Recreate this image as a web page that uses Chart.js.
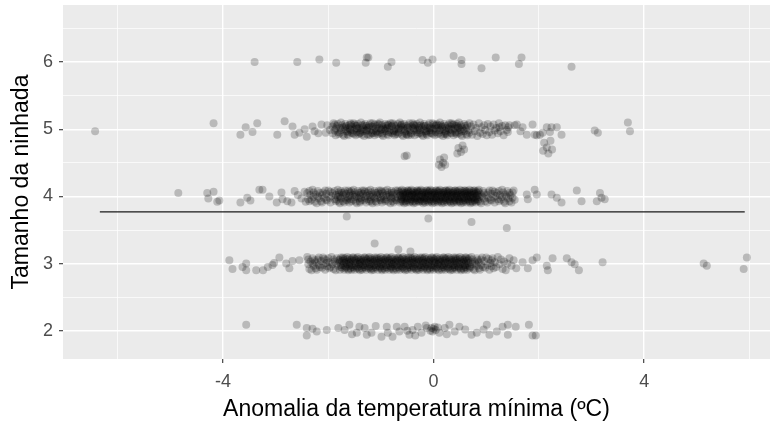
<!DOCTYPE html>
<html lang="pt">
<head>
  <meta charset="UTF-8">
  <title>Tamanho da ninhada</title>
  <script src="https://cdn.jsdelivr.net/npm/chart.js@4"></script>
  <style>
    body { margin: 0; background: #fff; }
    #wrap { width: 770px; height: 430px; position: relative; }
  </style>
</head>
<body>
  <div id="wrap"><canvas id="grafico"></canvas></div>

  <script>
    // anomalia (x) e tamanho da ninhada com jitter (y)
    const linha6 = [
      [-3.40,6.00],[-2.59,6.00],[-2.17,6.04],[-1.85,5.99],[-1.27,6.07],[-1.24,6.07],[-1.29,5.99],[-0.87,5.93],[-0.80,6.00],[-0.21,6.03],
      [-0.11,5.99],[-0.02,6.04],[0.38,6.09],[0.53,6.03],[0.53,5.97],[0.91,5.91],[1.18,6.07],[1.67,6.07],[1.62,5.97],[2.62,5.93]
    ]

    const linha5 = [
      [-6.43,4.97],[-4.18,5.09],[-3.67,4.92],[-3.57,5.03],[-3.44,4.96],[-3.35,5.09],[-2.97,4.92],[-2.83,5.12],[-2.68,5.04],[-2.64,4.92],
      [-2.55,4.95],[-2.45,5.00],[-2.41,4.89],[-2.30,5.04],[-2.26,4.97],[-2.19,4.94],[-2.13,5.07],[-2.05,4.95],[-2.02,5.06],[-1.97,4.99],
      [-1.92,5.04],[-1.92,4.94],[-1.90,5.09],[-1.88,4.98],[-1.88,5.07],[-1.86,4.91],[-1.86,5.01],[-1.84,5.05],[-1.82,4.96],[-1.82,5.08],[-1.80,4.93],[-1.78,5.02],[-1.78,4.95],[-1.76,5.10],[-1.76,4.99],[-1.74,5.06],
      [-1.72,4.92],[-1.72,5.03],[-1.70,4.90],[-1.68,5.00],[-1.68,5.08],[-1.66,4.97],[-1.66,5.05],[-1.64,4.93],[-1.62,5.02],[-1.62,4.91],[-1.60,5.06],[-1.58,4.98],[-1.58,5.09],[-1.56,4.95],[-1.56,5.04],[-1.54,4.94],
      [-1.52,5.09],[-1.52,4.98],[-1.50,5.07],[-1.48,4.91],[-1.48,5.01],[-1.46,5.05],[-1.46,4.96],[-1.44,5.08],[-1.42,4.93],[-1.42,5.02],[-1.40,4.95],[-1.38,5.10],[-1.38,4.99],[-1.36,5.06],[-1.36,4.92],[-1.34,5.03],
      [-1.32,4.90],[-1.32,5.00],[-1.30,5.08],[-1.28,4.97],[-1.28,5.05],[-1.26,4.93],[-1.26,5.02],[-1.24,4.91],[-1.22,5.06],[-1.22,4.98],[-1.20,5.09],[-1.18,4.95],[-1.18,5.04],[-1.16,4.94],[-1.16,5.09],[-1.14,4.98],
      [-1.12,5.07],[-1.12,4.91],[-1.10,5.01],[-1.08,5.05],[-1.08,4.96],[-1.06,5.08],[-1.06,4.93],[-1.04,5.02],[-1.02,4.95],[-1.02,5.10],[-1.00,4.99],[-0.98,5.06],[-0.98,4.92],[-0.96,5.03],[-0.96,4.90],[-0.94,5.00],
      [-0.92,5.08],[-0.92,4.97],[-0.90,5.05],[-0.88,4.93],[-0.88,5.02],[-0.86,4.91],[-0.86,5.06],[-0.84,4.98],[-0.82,5.09],[-0.82,4.95],[-0.80,5.04],[-0.78,4.94],[-0.78,5.09],[-0.76,4.98],[-0.76,5.07],[-0.74,4.91],
      [-0.72,5.01],[-0.72,5.05],[-0.70,4.96],[-0.68,5.08],[-0.68,4.93],[-0.66,5.02],[-0.66,4.95],[-0.64,5.10],[-0.62,4.99],[-0.62,5.06],[-0.60,4.92],[-0.58,5.03],[-0.58,4.90],[-0.56,5.00],[-0.56,5.08],[-0.54,4.97],
      [-0.52,5.05],[-0.52,4.93],[-0.50,5.02],[-0.48,4.91],[-0.48,5.06],[-0.46,4.98],[-0.46,5.09],[-0.44,4.95],[-0.42,5.04],[-0.42,4.94],[-0.40,5.09],[-0.38,4.98],[-0.38,5.07],[-0.36,4.91],[-0.36,5.01],[-0.34,5.05],
      [-0.32,4.96],[-0.32,5.08],[-0.30,4.93],[-0.28,5.02],[-0.28,4.95],[-0.26,5.10],[-0.26,4.99],[-0.24,5.06],[-0.22,4.92],[-0.22,5.03],[-0.20,4.90],[-0.18,5.00],[-0.18,5.08],[-0.16,4.97],[-0.16,5.05],[-0.14,4.93],
      [-0.12,5.02],[-0.12,4.91],[-0.10,5.06],[-0.08,4.98],[-0.08,5.09],[-0.06,4.95],[-0.06,5.04],[-0.04,4.94],[-0.02,5.09],[-0.02,4.98],[0.00,5.07],[0.02,4.91],[0.02,5.01],[0.04,5.05],[0.04,4.96],[0.06,5.08],
      [0.08,4.93],[0.08,5.02],[0.10,4.95],[0.12,5.10],[0.12,4.99],[0.14,5.06],[0.14,4.92],[0.16,5.03],[0.18,4.90],[0.18,5.00],[0.20,5.08],[0.22,4.97],[0.22,5.05],[0.24,4.93],[0.24,5.02],[0.26,4.91],
      [0.28,5.06],[0.28,4.98],[0.30,5.09],[0.32,4.95],[0.32,5.04],[0.34,4.94],[0.34,5.09],[0.36,4.98],[0.38,5.07],[0.38,4.91],[0.40,5.01],[0.42,5.05],[0.42,4.96],[0.44,5.08],[0.44,4.93],[0.46,5.02],
      [0.48,4.95],[0.48,5.10],[0.50,4.99],[0.52,5.06],[0.52,4.92],[0.54,5.03],[0.54,4.90],[0.56,5.00],[0.58,5.08],[0.58,4.97],[0.60,5.05],[0.62,4.93],[0.62,5.02],[0.64,4.91],[0.64,5.06],[0.66,4.98],
      [0.68,5.09],[0.68,4.95],
      [-1.69,5.03],[-1.63,4.96],[-1.57,5.07],[-1.51,4.93],[-1.45,5.01],[-1.39,4.95],[-1.33,5.06],[-1.27,4.99],[-1.21,4.92],[-1.15,5.04],
      [-1.09,4.97],[-1.03,5.07],[-0.97,4.94],[-0.91,5.01],[-0.85,4.96],[-0.79,5.05],[-0.73,4.93],[-0.67,5.00],[-0.61,5.07],[-0.55,4.95],
      [-0.49,5.03],[-0.43,4.92],[-0.37,5.06],[-0.31,4.99],[-0.25,4.94],[-0.19,5.05],[-0.13,4.97],[-0.07,5.02],[-0.01,4.93],[0.05,5.06],
      [0.11,4.98],[0.17,5.04],[0.23,4.95],[0.29,5.01],[0.35,5.07],[0.41,4.94],[0.47,5.03],[0.53,4.97],[-1.59,5.00],[-1.47,5.05],
      [-1.35,4.97],[-1.23,5.03],[-1.11,4.94],[-0.99,5.00],[-0.87,5.07],[-0.75,4.97],[-0.63,5.04],[-0.51,4.92],[-0.39,5.02],[-0.27,5.05],
      [-0.15,4.95],[-0.03,5.01],[0.09,5.06],[0.21,4.93],[0.33,5.00],[0.45,5.05],
      [0.71,5.04],[0.73,4.92],[0.76,5.07],[0.78,4.97],[0.81,5.02],[0.83,4.90],[0.86,5.09],[0.88,4.95],[0.91,5.03],[0.93,4.93],
      [0.96,5.06],[0.98,4.99],[1.01,4.91],[1.03,5.08],[1.06,4.96],[1.08,5.04],[1.11,4.92],[1.14,5.07],[1.16,4.98],[1.19,5.02],
      [1.22,4.94],[1.24,5.09],[1.27,4.97],[1.30,5.05],[1.33,4.91],[1.36,5.06],[1.39,4.99],[1.42,5.03],
      [1.25,5.03],[1.41,4.96],[1.44,5.06],[1.54,5.06],[1.58,5.07],[1.65,4.97],[1.69,5.03],[1.77,4.92],[1.88,5.07],[1.92,4.92],
      [1.96,4.91],[2.02,4.92],[2.07,4.95],[2.15,5.03],[2.21,4.96],[2.24,5.03],[2.34,5.03],[2.43,4.92],[3.06,4.98],[3.12,4.95],
      [3.69,5.10],[3.73,4.97]
    ]

    const intermedios = [
      [-0.55,4.60],[-0.51,4.61],
      [0.12,4.55],[0.18,4.50],[0.15,4.44],[0.22,4.47],[0.20,4.58],[0.10,4.47],
      [0.47,4.72],[0.55,4.76],[0.52,4.66],[0.58,4.70],[0.45,4.64],
      [2.10,4.80],[2.22,4.83],[2.15,4.73],[2.25,4.70],[2.08,4.68],[2.18,4.64]
    ]

    const linha4 = [
      [-4.85,4.05],[-4.30,4.05],[-4.18,4.07],[-4.28,3.97],[-4.11,3.92],[-4.07,3.94],[-3.67,3.91],[-3.54,3.98],[-3.48,3.94],[-3.31,4.10],
      [-3.25,4.10],[-3.12,4.00],[-2.98,3.91],[-2.89,4.06],[-2.87,3.96],[-2.78,3.93],[-2.70,3.91],[-2.64,4.08],[-2.58,4.02],[-2.51,3.97],
      [-2.45,4.07],[-2.43,3.92],
      [-2.40,4.05],[-2.38,3.96],[-2.36,4.08],[-2.36,3.93],[-2.34,4.02],[-2.32,3.95],[-2.30,4.10],[-2.28,3.99],[-2.28,4.06],[-2.26,3.92],
      [-2.24,4.03],[-2.22,3.90],[-2.20,4.00],[-2.20,4.08],[-2.18,3.97],[-2.16,4.05],[-2.14,3.93],[-2.12,4.02],[-2.12,3.91],[-2.10,4.06],
      [-2.08,3.98],[-2.06,4.09],[-2.04,3.95],[-2.04,4.04],[-2.02,3.94],[-2.00,4.09],[-1.98,3.98],[-1.96,4.07],[-1.96,3.91],[-1.94,4.01],[-1.92,4.05],
      [-1.88,3.96],[-1.88,4.08],[-1.86,3.93],[-1.86,4.02],[-1.84,3.95],[-1.82,4.10],[-1.82,3.99],[-1.80,4.06],[-1.80,3.92],[-1.80,4.03],
      [-1.78,3.90],[-1.78,4.00],[-1.76,4.08],[-1.76,3.97],[-1.74,4.05],[-1.72,3.93],[-1.72,4.02],[-1.70,3.91],[-1.70,4.06],
      [-1.68,3.98],[-1.68,4.09],[-1.66,3.95],[-1.66,4.04],[-1.64,3.94],[-1.62,4.09],[-1.62,3.98],[-1.60,4.07],[-1.60,3.91],[-1.60,4.01],
      [-1.58,4.05],[-1.58,3.96],[-1.56,4.08],[-1.56,3.93],[-1.54,4.02],[-1.52,3.95],[-1.52,4.10],[-1.50,3.99],[-1.50,4.06],
      [-1.48,3.92],[-1.48,4.03],[-1.46,3.90],[-1.46,4.00],[-1.44,4.08],[-1.42,3.97],[-1.42,4.05],[-1.40,3.93],[-1.40,4.02],[-1.40,3.91],
      [-1.38,4.06],[-1.38,3.98],[-1.36,4.09],[-1.36,3.95],[-1.34,4.04],[-1.32,3.94],[-1.32,4.09],[-1.30,3.98],[-1.30,4.07],
      [-1.28,3.91],[-1.28,4.01],[-1.26,4.05],[-1.26,3.96],[-1.24,4.08],[-1.22,3.93],[-1.22,4.02],[-1.20,3.95],[-1.20,4.10],[-1.20,3.99],
      [-1.18,4.06],[-1.18,3.92],[-1.16,4.03],[-1.16,3.90],[-1.14,4.00],[-1.12,4.08],[-1.12,3.97],[-1.10,4.05],[-1.10,3.93],
      [-1.08,4.02],[-1.08,3.91],[-1.06,4.06],[-1.06,3.98],[-1.04,4.09],[-1.02,3.95],[-1.02,4.04],[-1.00,3.94],[-1.00,4.09],[-1.00,3.98],
      [-0.98,4.07],[-0.98,3.91],[-0.96,4.01],[-0.96,4.05],[-0.94,3.96],[-0.92,4.08],[-0.92,3.93],[-0.90,4.02],[-0.90,3.95],
      [-0.88,4.10],[-0.88,3.99],[-0.86,4.06],[-0.86,3.92],[-0.84,4.03],[-0.82,3.90],[-0.82,4.00],[-0.80,4.08],[-0.80,3.97],[-0.80,4.05],
      [-0.78,3.93],[-0.78,4.02],[-0.76,3.91],[-0.76,4.06],[-0.74,3.98],[-0.72,4.09],[-0.72,3.95],[-0.70,4.04],[-0.70,3.94],[-0.68,4.09],[-0.68,3.98],[-0.66,4.07],
      [-0.64,3.91],[-0.64,4.01],[-0.64,4.05],[-0.62,3.96],[-0.62,4.08],[-0.62,3.93],[-0.62,4.02],[-0.60,3.95],[-0.60,4.10],[-0.60,3.99],
      [-0.58,4.06],[-0.58,3.92],[-0.58,4.03],[-0.56,3.90],[-0.56,4.00],[-0.56,4.08],[-0.56,3.97],[-0.54,4.05],[-0.54,3.93],[-0.54,4.02],
      [-0.52,3.91],[-0.52,4.06],[-0.52,3.98],[-0.50,4.09],[-0.50,3.95],[-0.50,4.04],[-0.50,3.94],[-0.48,4.09],[-0.48,3.98],[-0.48,4.07],
      [-0.46,3.91],[-0.46,4.01],[-0.46,4.05],
      [-0.44,3.96],[-0.44,4.08],[-0.44,3.93],[-0.42,4.02],[-0.42,3.95],[-0.42,4.10],[-0.42,3.99],[-0.40,4.06],[-0.40,3.92],[-0.40,4.03],
      [-0.38,3.90],[-0.38,4.00],[-0.38,4.08],[-0.36,3.97],[-0.36,4.05],[-0.36,3.93],[-0.36,4.02],[-0.34,3.91],[-0.34,4.06],[-0.34,3.98],
      [-0.32,4.09],[-0.32,3.95],[-0.32,4.04],[-0.30,3.94],[-0.30,4.09],[-0.30,3.98],[-0.30,4.07],[-0.28,3.92],[-0.28,4.00],[-0.28,4.06],
      [-0.26,3.96],[-0.26,4.08],[-0.26,3.93],
      [-0.24,4.02],[-0.24,3.95],[-0.24,4.10],[-0.22,3.99],[-0.22,4.06],[-0.22,3.92],[-0.22,4.03],[-0.20,3.90],[-0.20,4.00],[-0.20,4.08],
      [-0.18,3.97],[-0.18,4.05],[-0.18,3.93],[-0.16,4.02],[-0.16,3.91],[-0.16,4.06],[-0.16,3.98],[-0.14,4.09],[-0.14,3.95],[-0.14,4.04],
      [-0.12,3.94],[-0.12,4.09],[-0.12,3.98],[-0.10,4.07],[-0.10,3.91],[-0.10,4.01],[-0.10,4.05],[-0.08,3.96],[-0.08,4.08],[-0.08,3.93],
      [-0.06,4.02],[-0.06,3.95],[-0.06,4.10],
      [-0.04,3.99],[-0.04,4.06],[-0.04,3.92],[-0.02,4.03],[-0.02,3.90],[-0.02,4.00],[-0.02,4.08],[0.00,3.97],[0.00,4.05],[0.00,3.93],
      [0.02,4.02],[0.02,3.91],[0.02,4.06],[0.04,3.98],[0.04,4.09],[0.04,3.95],[0.04,4.04],[0.06,3.94],[0.06,4.09],[0.06,3.98],
      [0.08,4.07],[0.08,3.91],[0.08,4.01],[0.10,4.05],[0.10,3.96],[0.10,4.08],[0.10,3.93],[0.12,4.02],[0.12,3.95],[0.12,4.10],
      [0.14,3.99],[0.14,4.06],[0.14,3.92],
      [0.16,4.03],[0.16,3.90],[0.16,4.00],[0.18,4.08],[0.18,3.97],[0.18,4.05],[0.18,3.93],[0.20,4.02],[0.20,3.91],[0.20,4.06],
      [0.22,3.98],[0.22,4.09],[0.22,3.95],[0.24,4.04],[0.24,3.94],[0.24,4.09],[0.24,3.98],[0.26,4.07],[0.26,3.91],[0.26,4.01],
      [0.28,4.05],[0.28,3.96],[0.28,4.08],[0.30,3.93],[0.30,4.02],[0.30,3.95],[0.30,4.10],[0.32,3.99],[0.32,4.06],[0.32,3.92],
      [0.34,4.03],[0.34,3.90],[0.34,4.00],
      [0.36,4.08],[0.36,3.97],[0.36,4.05],[0.38,3.93],[0.38,4.02],[0.38,3.91],[0.38,4.06],[0.40,3.98],[0.40,4.09],[0.40,3.95],
      [0.42,4.04],[0.42,3.94],[0.42,4.09],[0.44,3.98],[0.44,4.07],[0.44,3.91],[0.44,4.01],[0.46,4.05],[0.46,3.96],[0.46,4.08],
      [0.48,3.93],[0.48,4.02],[0.48,3.95],[0.50,4.10],[0.50,3.99],[0.50,4.06],[0.50,3.92],[0.52,4.03],[0.52,3.90],[0.52,4.00],
      [0.54,4.08],[0.54,3.97],[0.54,4.05],
      [0.56,3.93],[0.56,4.02],[0.56,3.91],[0.58,4.06],[0.58,3.98],[0.58,4.09],[0.58,3.95],[0.60,4.04],[0.60,3.94],[0.60,4.09],
      [0.62,3.98],[0.62,4.07],[0.62,3.91],[0.64,4.01],[0.64,4.05],[0.64,3.96],[0.64,4.08],[0.66,3.93],[0.66,4.02],[0.66,3.95],
      [0.68,4.10],[0.68,3.99],[0.68,4.06],[0.70,3.92],[0.70,4.03],[0.70,3.90],[0.70,4.00],[0.72,4.08],[0.72,3.97],[0.72,4.05],
      [0.74,3.93],[0.74,4.02],[0.74,3.91],
      [0.76,4.06],[0.76,3.98],[0.76,4.09],[0.78,3.95],[0.78,4.04],[0.78,3.94],[0.78,4.09],[0.80,3.98],[0.80,4.07],[0.80,3.91],
      [0.82,4.01],[0.82,4.05],[0.82,3.96],[0.84,4.08],[0.84,3.93],[0.84,4.02],[0.84,3.95],[0.86,4.10],[0.86,3.99],[0.86,4.06],
      [0.88,3.92],[0.90,4.03],[0.90,3.90],[0.92,4.00],[0.94,4.08],[0.96,3.97],[0.96,4.05],[0.98,3.93],[1.00,4.02],[1.02,3.91],
      [1.04,4.06],[1.04,3.98],[1.06,4.09],[1.08,3.95],[1.10,4.04],[1.10,3.94],[1.12,4.09],[1.14,3.98],[1.16,4.07],[1.16,3.91],
      [1.18,4.01],[1.20,4.05],[1.22,3.96],[1.24,4.08],[1.24,3.93],[1.26,4.02],[1.28,3.95],[1.30,4.10],[1.30,3.99],[1.32,4.06],
      [1.34,3.92],[1.36,4.03],[1.36,3.90],[1.38,4.00],[1.40,4.08],[1.42,3.97],[1.44,4.05],[1.44,3.93],[1.46,4.02],[1.48,3.91],
      [1.50,4.06],[1.50,3.98],[1.52,4.09],[1.54,3.95],
      [1.77,4.03],[1.79,3.96],[1.92,4.10],[1.96,4.03],[2.24,4.03],[2.34,3.98],[2.43,3.91],[2.72,4.09],[2.81,3.93],[3.10,3.93],
      [3.16,4.05],[3.19,3.98],[3.25,3.96],
      [-1.65,3.70],[-0.10,3.67],[0.72,3.62],[1.39,3.53]
    ]

    const linha3 = [
      [-3.88,3.05],[-3.82,2.92],[-3.63,2.95],[-3.56,3.00],[-3.56,2.90],[-3.37,2.90],[-3.24,2.90],[-3.15,2.95],[-3.06,2.98],[-3.03,3.01],
      [-2.93,3.09],[-2.80,3.00],[-2.74,2.93],[-2.68,3.04],[-2.55,3.05],
      [-1.12,3.30],[-0.67,3.21],[-0.44,3.18],
      [-2.40,3.10],[-2.38,2.99],[-2.38,3.06],[-2.36,2.92],[-2.34,3.03],[-2.32,2.90],[-2.30,3.00],[-2.30,3.08],[-2.28,2.97],[-2.26,3.05],
      [-2.24,2.93],[-2.24,3.02],[-2.22,2.91],[-2.20,3.06],[-2.18,2.98],[-2.18,3.09],[-2.16,2.95],[-2.14,3.04],[-2.12,2.94],[-2.10,3.09],
      [-2.10,2.98],[-2.08,3.07],[-2.06,2.91],[-2.04,3.01],[-2.04,3.05],[-2.02,2.96],[-2.00,3.08],[-1.98,2.93],[-1.98,3.02],[-1.96,2.95],
      [-1.94,3.10],[-1.92,2.99],[-1.90,3.06],[-1.90,2.92],[-1.88,3.03],[-1.86,2.90],[-1.84,3.00],[-1.84,3.08],[-1.82,2.97],[-1.80,3.05],
      [-1.78,3.02],[-1.78,2.91],[-1.78,3.06],[-1.76,2.98],[-1.76,3.09],[-1.76,2.95],[-1.74,3.04],[-1.74,2.94],[-1.72,3.09],[-1.72,2.98],[-1.72,3.07],
      [-1.70,2.91],[-1.70,3.01],[-1.70,3.05],[-1.68,2.96],[-1.68,3.08],[-1.68,2.93],[-1.66,3.02],[-1.66,2.95],[-1.64,3.10],[-1.64,2.99],[-1.64,3.06],
      [-1.62,2.92],[-1.62,3.03],[-1.62,2.90],[-1.60,3.00],[-1.60,3.08],[-1.60,2.97],
      [-1.58,3.05],[-1.58,2.93],[-1.58,3.02],[-1.56,2.91],[-1.56,3.06],[-1.56,2.98],[-1.54,3.09],[-1.54,2.95],[-1.52,3.04],[-1.52,2.94],[-1.52,3.09],
      [-1.50,2.98],[-1.50,3.07],[-1.50,2.91],[-1.48,3.01],[-1.48,3.05],[-1.48,2.96],[-1.46,3.08],[-1.46,2.93],[-1.44,3.02],[-1.44,2.95],[-1.44,3.10],
      [-1.42,2.99],[-1.42,3.06],[-1.42,2.92],[-1.40,3.03],[-1.40,2.90],[-1.40,3.00],
      [-1.38,3.08],[-1.38,2.97],[-1.38,3.05],[-1.36,2.93],[-1.36,3.02],[-1.36,2.91],[-1.34,3.06],[-1.34,2.98],[-1.32,3.09],[-1.32,2.95],[-1.32,3.04],
      [-1.30,2.94],[-1.30,3.09],[-1.30,2.98],[-1.28,3.07],[-1.28,2.91],[-1.28,3.01],[-1.26,3.05],[-1.26,2.96],[-1.24,3.08],[-1.24,2.93],[-1.24,3.02],
      [-1.22,2.95],[-1.22,3.10],[-1.22,2.99],[-1.20,3.06],[-1.20,2.92],[-1.20,3.03],
      [-1.18,2.90],[-1.18,3.00],[-1.18,3.08],[-1.16,2.97],[-1.16,3.05],[-1.16,2.93],[-1.14,3.02],[-1.14,2.91],[-1.12,3.06],[-1.12,2.98],[-1.12,3.09],
      [-1.10,2.95],[-1.10,3.04],[-1.10,2.94],[-1.08,3.09],[-1.08,2.98],[-1.08,3.07],[-1.06,2.91],[-1.06,3.01],[-1.04,3.05],[-1.04,2.96],[-1.04,3.08],
      [-1.02,2.93],[-1.02,3.02],[-1.02,2.95],[-1.00,3.10],[-1.00,2.99],[-1.00,3.06],
      [-0.98,2.92],[-0.98,3.03],[-0.98,2.90],[-0.96,3.00],[-0.96,3.08],[-0.96,2.97],[-0.94,3.05],[-0.94,2.93],[-0.92,3.02],[-0.92,2.91],[-0.92,3.06],
      [-0.90,2.98],[-0.90,3.09],[-0.90,2.95],[-0.88,3.04],[-0.88,2.94],[-0.88,3.09],[-0.86,2.98],[-0.86,3.07],[-0.84,2.91],[-0.84,3.01],[-0.84,3.05],
      [-0.82,2.96],[-0.82,3.08],[-0.82,2.93],[-0.80,3.02],[-0.80,2.95],[-0.80,3.10],
      [-0.78,2.99],[-0.78,3.06],[-0.78,2.92],[-0.76,3.03],[-0.76,2.90],[-0.76,3.00],[-0.74,3.08],[-0.74,2.97],[-0.72,3.05],[-0.72,2.93],[-0.72,3.02],
      [-0.70,2.91],[-0.70,3.06],[-0.70,2.98],[-0.68,3.09],[-0.68,2.95],[-0.68,3.04],[-0.66,2.94],[-0.66,3.09],[-0.64,2.98],[-0.64,3.07],[-0.64,2.91],
      [-0.62,3.01],[-0.62,3.05],[-0.62,2.96],[-0.60,3.08],[-0.60,2.93],[-0.60,3.02],
      [-0.58,2.95],[-0.58,3.10],[-0.58,2.99],[-0.56,3.06],[-0.56,2.92],[-0.56,3.03],[-0.54,2.90],[-0.54,3.00],[-0.52,3.08],[-0.52,2.97],[-0.52,3.05],
      [-0.50,2.93],[-0.50,3.02],[-0.50,2.91],[-0.48,3.06],[-0.48,2.98],[-0.48,3.09],[-0.46,2.95],[-0.46,3.04],[-0.44,2.94],[-0.44,3.09],[-0.44,2.98],
      [-0.42,3.07],[-0.42,2.91],[-0.42,3.01],[-0.40,3.05],[-0.40,2.96],[-0.40,3.08],
      [-0.38,2.93],[-0.38,3.02],[-0.38,2.95],[-0.36,3.10],[-0.36,2.99],[-0.36,3.06],[-0.34,2.92],[-0.34,3.03],[-0.32,2.90],[-0.32,3.00],[-0.32,3.08],
      [-0.30,2.97],[-0.30,3.05],[-0.30,2.93],[-0.28,3.02],[-0.28,2.91],[-0.28,3.06],[-0.26,2.98],[-0.26,3.09],[-0.24,2.95],[-0.24,3.04],[-0.24,2.94],
      [-0.22,3.09],[-0.22,2.98],[-0.22,3.07],[-0.20,2.91],[-0.20,3.01],[-0.20,3.05],
      [-0.18,2.96],[-0.18,3.08],[-0.18,2.93],[-0.16,3.02],[-0.16,2.95],[-0.16,3.10],[-0.14,2.99],[-0.14,3.06],[-0.12,2.92],[-0.12,3.03],[-0.12,2.90],
      [-0.10,3.00],[-0.10,3.08],[-0.10,2.97],[-0.08,3.05],[-0.08,2.93],[-0.08,3.02],[-0.06,2.91],[-0.06,3.06],[-0.04,2.98],[-0.04,3.09],[-0.04,2.95],
      [-0.02,3.04],[-0.02,2.94],[-0.02,3.09],[0.00,2.98],[0.00,3.07],[0.00,2.91],
      [0.02,3.01],[0.02,3.05],[0.02,2.96],[0.04,3.08],[0.04,2.93],[0.04,3.02],[0.06,2.95],[0.06,3.10],[0.08,2.99],[0.08,3.06],[0.08,2.92],
      [0.10,3.03],[0.10,2.90],[0.10,3.00],[0.12,3.08],[0.12,2.97],[0.12,3.05],[0.14,2.93],[0.14,3.02],[0.16,2.91],[0.16,3.06],[0.16,2.98],
      [0.18,3.09],[0.18,2.95],[0.18,3.04],[0.20,2.94],[0.20,3.09],[0.20,2.98],
      [0.22,3.07],[0.22,2.91],[0.22,3.01],[0.24,3.05],[0.24,2.96],[0.24,3.08],[0.26,2.93],[0.26,3.02],[0.28,2.95],[0.28,3.10],[0.28,2.99],
      [0.30,3.06],[0.30,2.92],[0.30,3.03],[0.32,2.90],[0.32,3.00],[0.32,3.08],[0.34,2.97],[0.34,3.05],[0.36,2.93],[0.36,3.02],[0.36,2.91],
      [0.38,3.06],[0.38,2.98],[0.38,3.09],[0.40,2.95],[0.40,3.04],[0.40,2.94],
      [0.42,3.09],[0.42,2.98],[0.42,3.07],[0.44,2.91],[0.44,3.01],[0.44,3.05],[0.46,2.96],[0.46,3.08],[0.48,2.93],[0.48,3.02],[0.48,2.95],
      [0.50,3.10],[0.50,2.99],[0.50,3.06],[0.52,2.92],[0.52,3.03],[0.52,2.90],[0.54,3.00],[0.54,3.08],[0.56,2.97],[0.56,3.05],[0.56,2.93],
      [0.58,3.02],[0.58,2.91],[0.58,3.06],[0.60,2.98],[0.60,3.09],[0.60,2.95],
      [0.62,3.04],[0.62,2.94],[0.62,3.09],[0.64,2.98],[0.64,3.07],[0.64,2.91],[0.66,3.01],[0.66,3.05],[0.68,2.96],[0.68,3.08],[0.68,2.93],
      [0.70,3.02],[0.70,2.95],[0.72,3.10],[0.74,2.99],[0.74,3.06],[0.76,2.92],[0.78,3.03],[0.78,2.90],[0.80,3.00],[0.82,3.08],
      [0.82,2.97],[0.84,3.05],[0.86,2.93],[0.86,3.02],[0.88,2.91],[0.90,3.06],[0.90,2.98],
      [0.92,3.09],[0.94,2.95],[0.96,3.04],[0.98,2.94],[1.00,3.09],[1.02,2.98],[1.04,3.07],[1.06,2.91],[1.08,3.01],[1.10,3.05],[1.10,2.96],
      [1.12,3.08],[1.14,2.93],[1.16,3.02],[1.19,2.95],[1.22,3.10],[1.25,2.99],[1.28,3.06],[1.31,2.92],[1.34,3.03],[1.37,2.90],
      [1.40,3.00],[1.44,3.08],[1.48,2.97],[1.52,3.05],[1.57,2.93],
      [1.69,3.02],[1.79,2.93],[1.88,3.05],[1.96,3.09],[2.15,2.97],[2.17,2.90],[2.26,3.08],[2.53,3.08],[2.62,3.02],[2.68,2.99],
      [2.76,2.90],[3.21,3.02],[5.13,3.00],[5.19,2.97],[5.89,2.92],[5.95,3.09]
    ]

    const linha2 = [
      [-3.56,2.09],[-2.60,2.09],[-2.41,2.04],[-2.41,1.93],[-2.30,2.03],[-2.22,1.99],[-2.03,2.01],[-1.81,2.04],[-1.69,2.01],[-1.60,2.09],
      [-1.55,1.95],[-1.46,1.97],[-1.41,2.06],[-1.31,2.04],[-1.27,1.94],[-1.18,1.97],[-1.10,2.07],[-0.99,1.91],[-0.89,2.06],[-0.87,1.97],
      [-0.78,1.91],[-0.70,2.06],[-0.65,1.99],[-0.55,2.06],[-0.50,2.00],[-0.46,1.94],[-0.40,2.01],[-0.35,1.93],[-0.30,2.06],[-0.23,1.97],
      [-0.15,2.08],[-0.13,2.04],[-0.06,2.00],[-0.04,2.04],[-0.02,1.99],[0.00,2.03],[0.02,2.06],[0.04,2.01],[0.08,2.05],[0.11,1.97],
      [0.21,2.04],[0.25,1.95],[0.30,2.09],[0.40,1.99],[0.49,2.06],[0.60,2.02],[0.72,1.94],[0.82,1.97],[0.95,2.02],[1.01,2.09],
      [1.06,1.94],[1.20,1.99],[1.31,2.06],[1.41,2.09],[1.41,1.94],[1.56,2.06],[1.81,2.09],[1.88,1.93],[1.94,1.93]
    ]

    // linha horizontal (média) e eixos
    const mediaNinhada = 3.77
    const extremosLinha = [-6.34, 5.91]
    const limitesX = [-7.04, 6.39]
    const limitesY = [1.58, 6.85]
    const rotulosX = [-4, 0, 4]
    const rotulosY = [2, 3, 4, 5, 6]

    const pontos = [...linha2, ...linha3, ...linha4, ...intermedios, ...linha5, ...linha6]
      .map(p => ({ x: p[0], y: p[1] }))

    const fonte = '"Liberation Sans", Arial, sans-serif'

    const fundoPainel = {
      id: 'fundoPainel',
      beforeDraw(chart) {
        const { ctx, chartArea: a } = chart
        ctx.save()
        ctx.fillStyle = '#EBEBEB'
        ctx.fillRect(a.left, a.top, a.right - a.left, a.bottom - a.top)
        ctx.restore()
      }
    }

    const ctx = document.getElementById('grafico').getContext('2d')
    new Chart(ctx, {
      type: 'scatter',
      data: {
        datasets: [
          {
            data: extremosLinha.map(x => ({ x: x, y: mediaNinhada })),
            showLine: true,
            borderColor: '#1a1a1a',
            borderWidth: 1.3,
            pointRadius: 0,
            order: 0
          },
          {
            data: pontos,
            backgroundColor: 'rgba(0, 0, 0, 0.21)',
            borderWidth: 0,
            pointRadius: 4,
            order: 1
          }
        ]
      },
      options: {
        responsive: true,
        maintainAspectRatio: false,
        animation: false,
        layout: { autoPadding: false, padding: { top: 5, right: 0, left: 0, bottom: 0 } },
        plugins: {
          legend: { display: false },
          tooltip: { enabled: false }
        },
        scales: {
          x: {
            type: 'linear',
            min: limitesX[0],
            max: limitesX[1],
            border: { display: false },
            grid: {
              color: '#ffffff',
              lineWidth: c => rotulosX.includes(c.tick.value) ? 1.4 : 0.7,
              tickColor: c => rotulosX.includes(c.tick.value) ? '#333333' : 'rgba(0,0,0,0)',
              tickLength: 4,
              tickWidth: 1.1
            },
            ticks: {
              stepSize: 2,
              includeBounds: false,
              autoSkip: false,
              maxRotation: 0,
              padding: 8,
              color: '#4D4D4D',
              font: { size: 18, family: fonte },
              callback: v => rotulosX.includes(v) ? String(v) : ''
            },
            title: {
              display: true,
              text: 'Anomalia da temperatura mínima (ºC)',
              color: '#000000',
              font: { size: 23, family: fonte },
              padding: { top: 0, bottom: 7 }
            },
            afterFit: s => {
              s.height = 71
              s.paddingLeft = 0
              s.paddingRight = 0
            }
          },
          y: {
            type: 'linear',
            min: limitesY[0],
            max: limitesY[1],
            border: { display: false },
            grid: {
              color: '#ffffff',
              lineWidth: c => rotulosY.includes(c.tick.value) ? 1.4 : 0.7,
              tickColor: c => rotulosY.includes(c.tick.value) ? '#333333' : 'rgba(0,0,0,0)',
              tickLength: 4,
              tickWidth: 1.1
            },
            ticks: {
              stepSize: 0.5,
              includeBounds: false,
              autoSkip: false,
              padding: 6,
              color: '#4D4D4D',
              font: { size: 18, family: fonte },
              callback: v => rotulosY.includes(v) ? String(v) : ''
            },
            title: {
              display: true,
              text: 'Tamanho da ninhada',
              color: '#000000',
              font: { size: 23, family: fonte },
              padding: { top: 8, bottom: 0 }
            },
            afterFit: s => {
              s.width = 63
              s.paddingTop = 0
              s.paddingBottom = 0
            }
          }
        }
      },
      plugins: [fundoPainel]
    })
  </script>
</body>
</html>
